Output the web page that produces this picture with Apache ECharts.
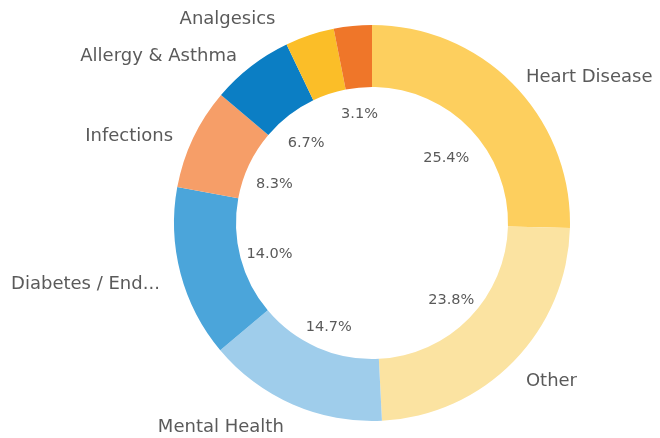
<!DOCTYPE html>
<html><head><meta charset="utf-8">
<script src="https://cdn.jsdelivr.net/npm/echarts@6/dist/echarts.min.js"></script>
<style>html,body{margin:0;padding:0;background:#fff}#c{width:660px;height:438px}</style>
</head><body><div id="c"></div>
<script>
const categories = ["Heart Disease","Other","Mental Health","Diabetes / End...","Infections","Allergy & Asthma","Analgesics",""];
const values = [25.4, 23.8, 14.7, 14.0, 8.3, 6.7, 4.0, 3.1];
const colors = ["#fdcf5e","#fbe3a1","#9fcdeb","#4ba5da","#f69e68","#0b7ec4","#fbbe28","#ef7629"];
const hidePct = ["Analgesics"];
// small label nudges [dx, dy] to mimic the original label placement
const nameNudge = [[0,0],[0,13],[0,14],[-6,8],[-6,2],[-3,-2],[-26,-6],[0,0]];
const pctNudge  = [[-3,6],[2,-3],[0,0],[2,-1],[0,3],[0,1],[0,0],[-2,-6]];

const chart = echarts.init(document.getElementById('c'));
const center = [372, 223];
chart.setOption({
  animation: false,
  series: [
    {
      type: 'pie', center: center, radius: [136, 198], startAngle: 90, clockwise: true,
      silent: true,
      data: categories.map((c,i)=>({name:c, value:values[i], itemStyle:{color:colors[i]},
        label:{show: c !== ""}})),
      label: { show: true, position: 'outside', formatter: '{b}', color: '#5a5a5a',
        fontFamily: 'DejaVu Sans', fontSize: 18 },
      labelLine: { show: false, length: 10, length2: 0 },
      avoidLabelOverlap: false,
      labelLayout: p => ({ dx: nameNudge[p.dataIndex][0], dy: nameNudge[p.dataIndex][1] })
    },
    {
      type: 'pie', center: [center[0], center[1] + 5], radius: [0, 210], startAngle: 90, clockwise: true,
      silent: true,
      data: categories.map((c,i)=>({name:c, value:values[i], itemStyle:{color:'rgba(0,0,0,0)'},
        label:{show: hidePct.indexOf(c) < 0}})),
      label: { show: true, position: 'inside', color: '#5a5a5a', fontFamily: 'DejaVu Sans', fontSize: 14.5,
        formatter: p => values[p.dataIndex].toFixed(1) + '%' },
      labelLine: { show: false },
      labelLayout: p => ({ dx: pctNudge[p.dataIndex][0], dy: pctNudge[p.dataIndex][1] })
    }
  ]
});
</script></body></html>
